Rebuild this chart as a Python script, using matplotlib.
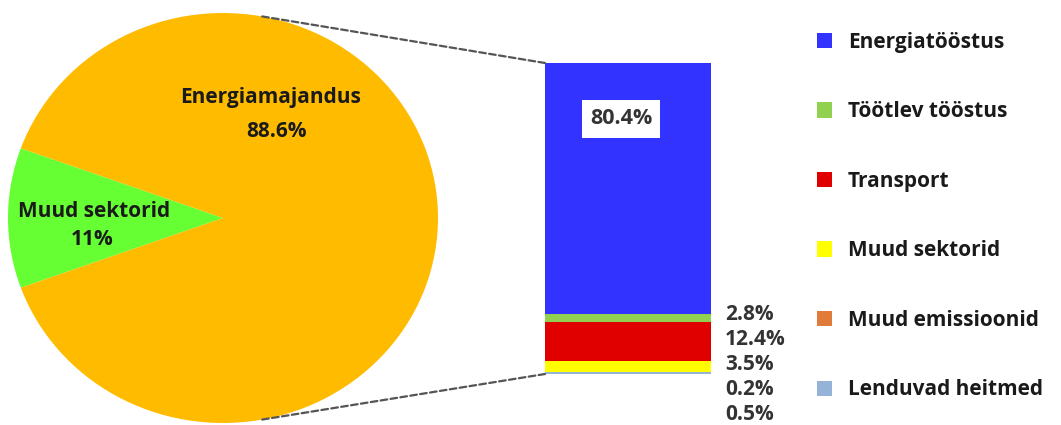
import matplotlib.pyplot as plt
from matplotlib.patches import ConnectionPatch, Patch
import numpy as np

# pie data
pie_labels = ['Muud sektorid', 'Energiamajandus']
pie_values = [11, 88.6]
pie_colors = ['#66FF33', '#FFBB00']

# stacked bar data (bottom -> top)
bar_labels = ['Lenduvad heitmed', 'Muud emissioonid', 'Muud sektorid',
              'Transport', 'Töötlev tööstus', 'Energiatööstus']
bar_values = [0.5, 0.2, 3.5, 12.4, 2.8, 80.4]
bar_colors = ['#95B3D7', '#E07B39', '#FFFF00', '#E00000', '#92D050', '#3333FF']

W, H = 1061, 425
fig = plt.figure(figsize=(W / 100, H / 100), dpi=100)
plt.rcParams['font.family'] = ['Open Sans', 'DejaVu Sans']
txt = '#1a1a1a'
fs = 15

def box(x0, y0, x1, y1):
    # pixel box (top-left origin) -> figure fraction
    return [x0 / W, (H - y1) / H, (x1 - x0) / W, (y1 - y0) / H]

# pie
ax = fig.add_axes(box(8, 13, 438, 423))
start = 180 - pie_values[0] / sum(pie_values) * 360 / 2
ax.pie(pie_values, colors=pie_colors, startangle=start, radius=1)
ax.set_aspect('auto')
ax.set_xlim(-1, 1)
ax.set_ylim(-1, 1)
ax.text(0.22, 0.59, pie_labels[1], ha='center', va='center', fontsize=fs, fontweight='bold', color=txt)
ax.text(0.25, 0.42, f'{pie_values[1]}%', ha='center', va='center', fontsize=fs, fontweight='bold', color=txt)
ax.text(-0.6, 0.03, pie_labels[0], ha='center', va='center', fontsize=fs, fontweight='bold', color=txt)
ax.text(-0.61, -0.107, f'{pie_values[0]}%', ha='center', va='center', fontsize=fs, fontweight='bold', color=txt)

# stacked bar
bx = fig.add_axes(box(545, 63, 711, 374))
bottom = 0
for v, c in zip(bar_values, bar_colors):
    bx.bar(0, v, bottom=bottom, color=c, width=1)
    bottom += v
bx.set_xlim(-0.5, 0.5)
bx.set_ylim(0, bottom)
bx.axis('off')
bx.text(0.458, 0.82, f'{bar_values[-1]}%', transform=bx.transAxes, ha='center', va='center',
        fontsize=15.5, fontweight='bold', color='#333333',
        bbox=dict(facecolor='white', edgecolor='none', boxstyle='square,pad=0.38'))

# values next to bar (top -> bottom)
for i, v in enumerate(bar_values[-2::-1]):
    fig.text(725 / W, 1 - (314 + i * 25.2) / H, f'{v}%', ha='left', va='center',
             fontsize=15, fontweight='bold', color='#333333')

# connection lines
ang = np.deg2rad(79.5)
for sgn, yb in [(1, bottom), (-1, 0)]:
    con = ConnectionPatch(xyA=(np.cos(ang), sgn * np.sin(ang)), coordsA=ax.transData,
                          xyB=(-0.5, yb), coordsB=bx.transData,
                          color='#555555', linewidth=1.6, linestyle=(0, (3, 1.5)))
    fig.add_artist(con)

# legend
handles = [Patch(facecolor=c, edgecolor='none') for c in bar_colors[::-1]]
fig.legend(handles, bar_labels[::-1], loc='upper left', bbox_to_anchor=(798 / W, 1 - 13 / H),
           frameon=False, prop=dict(size=fs, weight='bold'), labelcolor=txt,
           handlelength=0.75, handleheight=0.75, handletextpad=0.75, labelspacing=2.33)

fig.savefig('out.png', dpi=100)
